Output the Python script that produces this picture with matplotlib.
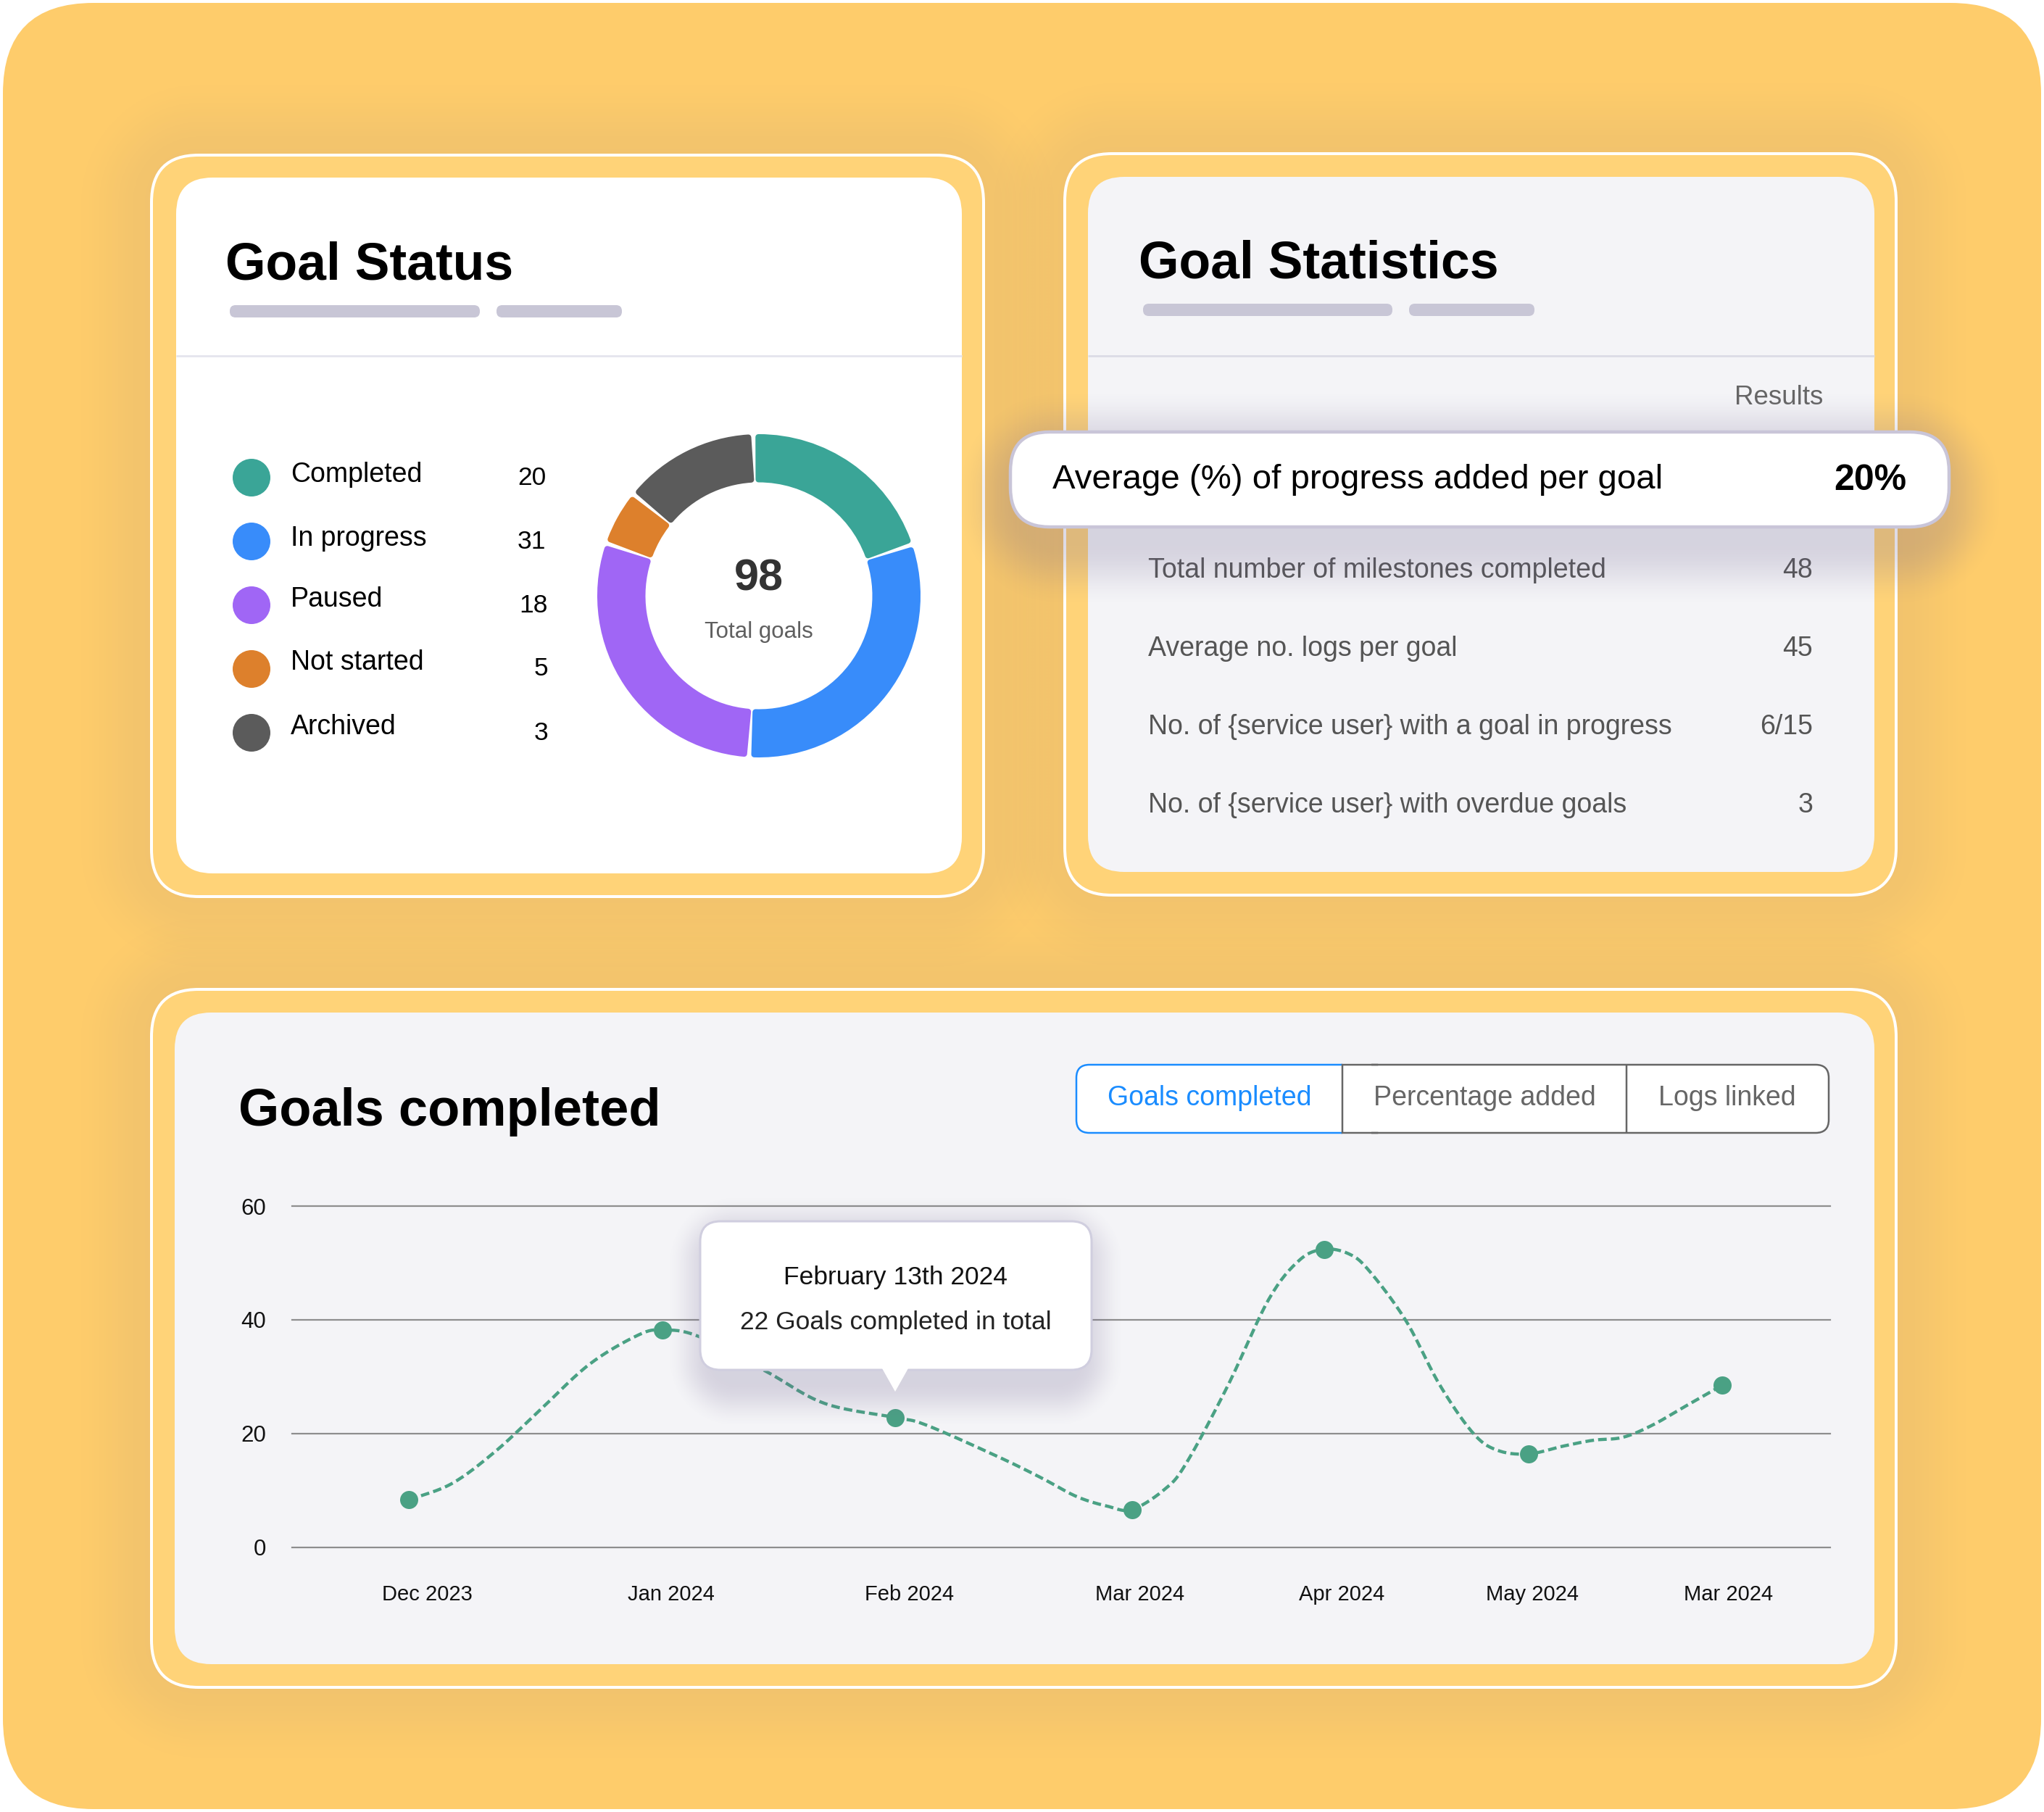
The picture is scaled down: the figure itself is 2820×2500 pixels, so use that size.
import numpy as np
import matplotlib
matplotlib.use("Agg")
import matplotlib.pyplot as plt
from matplotlib.patches import FancyBboxPatch, Circle, Polygon, Rectangle
from matplotlib.colors import to_rgb

plt.rcParams['font.family'] = ['Liberation Sans', 'DejaVu Sans']

# ---- data ----
status_labels = ["Completed", "In progress", "Paused", "Not started", "Archived"]
status_values = [20, 31, 18, 5, 3]
status_colors = ["#3AA597", "#388CFA", "#A066F5", "#DD802C", "#5B5B5B"]
slice_degrees = [73.5, 112, 105.5, 20, 49]   # drawn slice sizes as read from the ring

stat_labels = ["Total number of milestones completed", "Average no. logs per goal",
               "No. of {service user} with a goal in progress", "No. of {service user} with overdue goals"]
stat_values = ["48", "45", "6/15", "3"]

tabs = ["Goals completed", "Percentage added", "Logs linked"]

month_labels = ["Dec 2023", "Jan 2024", "Feb 2024", "Mar 2024", "Apr 2024", "May 2024", "Mar 2024"]
month_label_pos = [8.8, 24.65, 40.15, 55.1, 68.25, 80.65, 93.4]
point_pos = [7.6, 24.1, 39.2, 54.6, 67.1, 80.4, 93.0]
point_val = [8.3, 38.2, 22.8, 6.6, 52.4, 16.4, 28.5]
trace_pos = [7.6, 10.4, 13.2, 16.0, 19.3, 22.5, 24.1,
             26.4, 30.7, 34.6, 39.2,
             41.2, 45.9, 48.7, 51.0, 53.0, 54.6,
             56.7, 58.1, 60.8, 63.5, 65.5, 67.1,
             68.7, 70.0, 72.4, 74.6, 76.8, 78.4, 80.4,
             82.7, 84.6, 86.5, 88.4, 90.6, 93.0]
trace_val = [8.3, 11.2, 16.8, 23.8, 32.1, 37.3, 38.2,
             37.1, 31.1, 25.3, 22.8,
             21.5, 15.9, 12.2, 8.9, 7.2, 6.6,
             10.1, 14.6, 28.2, 43.6, 50.5, 52.4,
             51.6, 48.7, 39.9, 28.6, 20.0, 17.0, 16.4,
             17.8, 18.8, 19.3, 21.4, 24.8, 28.5]
y_ticks = [0, 20, 40, 60]

W, H = 2820, 2500
PT = 0.72
fig = plt.figure(figsize=(W / 100, H / 100), dpi=100, facecolor="white")


def px_axes(z):
    a = fig.add_axes([0, 0, 1, 1], zorder=z)
    a.set_xlim(0, W)
    a.set_ylim(H, 0)
    a.axis("off")
    a.patch.set_alpha(0)
    return a


def rrect(a, x0, y0, x1, y1, r, fc, ec="none", lw=0, z=1, alpha=None):
    p = FancyBboxPatch((x0, y0), x1 - x0, y1 - y0, boxstyle=f"round,pad=0,rounding_size={r}",
                       fc=fc, ec=ec, lw=lw * PT, zorder=z, alpha=alpha)
    a.add_patch(p)
    return p


GX, GY = np.meshgrid(np.arange(0, W, 2) + 1.0, np.arange(0, H, 2) + 1.0)


def shadow(a, x0, y0, x1, y1, r, spread, color, strength, z=1):
    """Soft shadow computed from the distance to a rounded box."""
    cx_, cy_ = (x0 + x1) / 2, (y0 + y1) / 2
    hx, hy = (x1 - x0) / 2 - r, (y1 - y0) / 2 - r
    qx, qy = np.abs(GX - cx_) - hx, np.abs(GY - cy_) - hy
    d = np.hypot(np.maximum(qx, 0), np.maximum(qy, 0)) + np.minimum(np.maximum(qx, qy), 0) - r
    t = np.clip(1 - np.maximum(d, 0) / spread, 0, 1)
    img = np.zeros(GX.shape + (4,))
    img[..., :3] = to_rgb(color)
    img[..., 3] = strength * t * t * (3 - 2 * t)
    a.imshow(img, extent=(0, W, H, 0), aspect="auto", zorder=z, interpolation="bilinear")
    a.set_xlim(0, W)
    a.set_ylim(H, 0)


bg = px_axes(0)
rrect(bg, 4, 4, W - 4, H - 4, 125, "#FECC6B", z=0)

# cards: (outer box, inner box, inner fill)
cards = [((209, 214, 1357, 1237), (243, 245, 1327, 1205), "#FFFFFF"),
         ((1469, 212, 2616, 1235), (1501, 244, 2586, 1203), "#F4F4F7"),
         ((209, 1365, 2616, 2328), (241, 1397, 2586, 2296), "#F4F4F7")]
for o, i, fc in cards:
    shadow(bg, *o, 65, 110, "#8A7A80", 0.10, z=1)
for o, i, fc in cards:
    rrect(bg, *o, 65, "#FFD378", ec="white", lw=4, z=2)
    rrect(bg, *i, 50, fc, z=3)

# headers
bg.text(311, 385, "Goal Status", fontsize=51.5, fontweight="bold", color="black", va="baseline", zorder=5)
bg.text(1571, 383, "Goal Statistics", fontsize=51.5, fontweight="bold", color="black", va="baseline", zorder=5)
bg.text(329, 1553, "Goals completed", fontsize=52, fontweight="bold", color="black", va="baseline", zorder=5)
for x0, x1, y0 in [(317, 662, 421), (685, 858, 421), (1577, 1921, 419), (1944, 2117, 419)]:
    rrect(bg, x0, y0, x1, y0 + 17, 8, "#C8C6D6", z=5)
bg.plot([243, 1327], [491, 491], color="#E6E6EE", lw=3 * PT, zorder=5, solid_capstyle="butt")
bg.plot([1501, 2586], [491, 491], color="#DDDDE6", lw=3 * PT, zorder=5, solid_capstyle="butt")

# legend of status card
leg_circle_y = [659, 747, 835, 923, 1011]
leg_label_base = [665, 753, 837, 924, 1013]
leg_value_base = [669, 757, 845, 932, 1021]
leg_value_right = [753, 753, 756, 756, 756]
for k, (lab, val, col) in enumerate(zip(status_labels, status_values, status_colors)):
    bg.add_patch(Circle((347, leg_circle_y[k]), 26, fc=col, ec="none", zorder=5))
    bg.text(401, leg_label_base[k], lab, fontsize=27, color="black", va="baseline", zorder=5)
    bg.text(leg_value_right[k], leg_value_base[k], str(val), fontsize=25.5, color="black",
            va="baseline", ha="right", zorder=5)

# donut
R = 240
cx, cy = 1047, 822
don = fig.add_axes([(cx - R) / W, 1 - (cy + R) / H, 2 * R / W, 2 * R / H], zorder=1)
don.patch.set_alpha(0)
wedges, _ = don.pie(slice_degrees, colors=status_colors, startangle=92, counterclock=False,
                    radius=219, wedgeprops=dict(width=58.5))
don.set_xlim(-R, R)
don.set_ylim(-R, R)
don.set_aspect("equal")
for w in wedges:
    w.set_theta1(w.theta1 + 1.8)
    w.set_theta2(w.theta2 - 1.8)
    w.set_edgecolor(w.get_facecolor())
    w.set_linewidth(8 * PT)
    w.set_joinstyle("round")
don.text(0, 23, "98", fontsize=44, fontweight="bold", color="#333333", ha="center", va="center")
don.text(0, -50, "Total goals", fontsize=22.5, color="#5F5F5F", ha="center", va="center")

# statistics rows
bg.text(2515, 558, "Results", fontsize=26.5, color="#666666", ha="right", va="baseline", zorder=5)
row_y = [797, 905, 1013, 1121]
for y, lab, val in zip(row_y, stat_labels, stat_values):
    bg.text(1584, y, lab, fontsize=27, color="#555555", va="baseline", zorder=5)
    bg.text(2501, y, val, fontsize=27, color="#555555", va="baseline", ha="right", zorder=5)

# tabs
rrect(bg, 1852, 1469, 2523, 1563, 18, "white", ec="#666666", lw=2.5, z=5)
bg.add_patch(Rectangle((1852, 1467), 40, 98, fc="white", ec="none", zorder=5.5))
bg.plot([1852, 1900], [1469, 1469], color="#666666", lw=2.5 * PT, zorder=5.6)
bg.plot([1852, 1900], [1563, 1563], color="#666666", lw=2.5 * PT, zorder=5.6)
first = rrect(bg, 1485, 1469, 1900, 1563, 18, "white", ec="#1A8CFF", lw=2.5, z=6)
first.set_clip_path(Rectangle((1480, 1460), 372, 110, transform=bg.transData))
bg.plot([1852, 1852], [1468, 1564], color="#666666", lw=2.5 * PT, zorder=7, solid_capstyle="butt")
bg.plot([2244, 2244], [1468, 1564], color="#666666", lw=2.5 * PT, zorder=7, solid_capstyle="butt")
for x, t, c in zip([1669, 2048, 2383], tabs, ["#1A8CFF", "#666666", "#666666"]):
    bg.text(x, 1525, t, fontsize=27, color=c, ha="center", va="baseline", zorder=8)

# line chart
ax = fig.add_axes([403 / W, 1 - 2134.5 / H, 2122 / W, 470.5 / H], zorder=1)
ax.patch.set_alpha(0)
ax.set_xlim(0, 100)
ax.set_ylim(0, 60)
for s in ax.spines.values():
    s.set_visible(False)
ax.set_yticks(y_ticks)
ax.set_yticklabels([str(v) for v in y_ticks], fontsize=22.5, color="#111111")
ax.set_xticks(month_label_pos)
ax.set_xticklabels(month_labels, fontsize=21, color="#111111")
ax.tick_params(axis="y", length=0, pad=26)
ax.tick_params(axis="x", length=0, pad=37)
ax.grid(axis="y", color="#8E8E8E", lw=2.2 * PT, clip_on=False)
ax.grid(axis="x", visible=False)
ax.set_axisbelow(True)

tp, tv = np.array(trace_pos), np.array(trace_val)
px_ = np.concatenate([[2 * tp[0] - tp[1]], tp, [2 * tp[-1] - tp[-2]]])
pv_ = np.concatenate([[2 * tv[0] - tv[1]], tv, [2 * tv[-1] - tv[-2]]])
sx, sy = [], []
for i in range(1, len(px_) - 2):
    t = np.linspace(0, 1, 16, endpoint=False)[:, None]
    basis = np.hstack([-t**3 + 2 * t**2 - t, 3 * t**3 - 5 * t**2 + 2, -3 * t**3 + 4 * t**2 + t, t**3 - t**2]) / 2
    sx.append(basis @ px_[i - 1:i + 3])
    sy.append(basis @ pv_[i - 1:i + 3])
sx = np.concatenate(sx + [[tp[-1]]])
sy = np.concatenate(sy + [[tv[-1]]])
ax.plot(sx, sy, color="#4AA184", lw=4.4 * PT, linestyle=(0, (2.7, 1.3)), clip_on=False, zorder=3)
ax.plot(point_pos, point_val, "o", color="#4AA184", ms=25 * PT, mew=0, clip_on=False, zorder=4)

# overlay: highlight row and tooltip
top = px_axes(3)
shadow(top, 1404, 622, 2680, 752, 54, 85, "#6B5F8C", 0.22, z=1)
rrect(top, 1394, 596, 2689, 727, 54, "white", ec="#C9C5D8", lw=4.5, z=2)
top.text(1452, 674, "Average (%) of progress added per goal", fontsize=34.1, color="black", va="baseline", zorder=3)
top.text(2630, 676, "20%", fontsize=36, fontweight="bold", color="black", ha="right", va="baseline", zorder=3)

shadow(top, 982, 1710, 1490, 1908, 30, 62, "#6B5F8C", 0.22, z=1)
rrect(top, 966, 1685, 1506, 1890, 28, "white", ec="#D0CEDF", lw=3, z=2)
top.add_patch(Polygon([(1217, 1888), (1253, 1888), (1235, 1920)], closed=True, fc="white", ec="none", zorder=3))
top.text(1235, 1772, "February 13th 2024", fontsize=25.5, color="#111111", ha="center", va="baseline", zorder=4)
top.text(1236, 1834, "22 Goals completed in total", fontsize=25.5, color="#222222", ha="center", va="baseline", zorder=4)

fig.savefig("out.png", dpi=100)
